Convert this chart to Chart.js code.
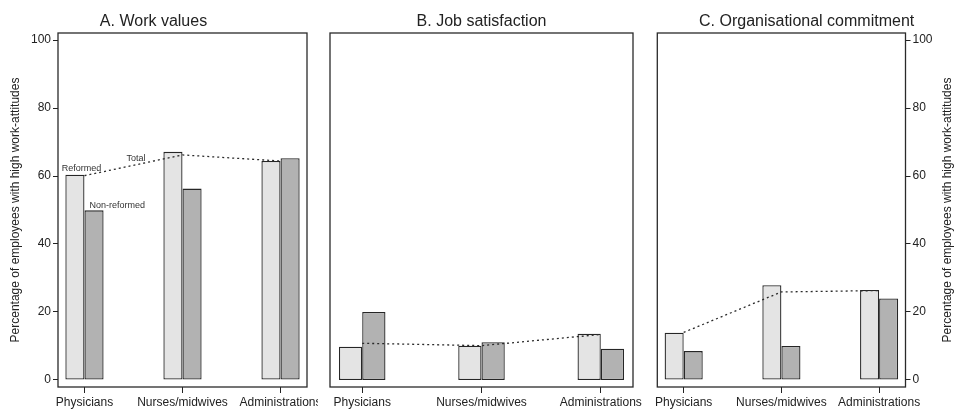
<!DOCTYPE html>
<html>
<head>
<meta charset="utf-8">
<script src="https://cdn.jsdelivr.net/npm/chart.js@4/dist/chart.umd.min.js"></script>
<style>
  html, body { margin: 0; padding: 0; background: #ffffff; }
  #wrap { position: relative; width: 956px; height: 413px; overflow: hidden; background: #ffffff; }
  canvas { position: absolute; top: 0; }
  #cA { left: 0px; }
  #cB { left: 318px; }
  #cC { left: 645px; }
</style>
</head>
<body>
<div id="wrap">
  <canvas id="cA" width="318" height="413"></canvas>
  <canvas id="cB" width="332" height="413"></canvas>
  <canvas id="cC" width="311" height="413"></canvas>
</div>
<script>
// Occupational groups on the x axis
const categories = ['Physicians', 'Nurses/midwives', 'Administrations'];

// A. Work values (% of employees with high work-attitudes)
const workReformed    = [60.4, 67.1, 64.4];
const workNonReformed = [49.9, 56.3, 65.2];
const workTotal       = [60.1, 66.2, 64.4];

// B. Job satisfaction
const jobReformed    = [9.8, 10.1, 13.6];
const jobNonReformed = [20.0, 11.1, 9.2];
const jobTotal       = [10.8, 10.1, 13.4];

// C. Organisational commitment
const commitReformed    = [13.9, 27.9, 26.5];
const commitNonReformed = [8.5, 10.0, 24.0];
const commitTotal       = [14.0, 25.9, 26.3];

// Percentage axis ticks
const yTicks = [0, 20, 40, 60, 80, 100];

const axisTitle = 'Percentage of employees with high work-attitudes';
const FONT = '"Liberation Sans", Arial, Helvetica, sans-serif';
const INK = '#222222';

Chart.defaults.font.family = FONT;
Chart.defaults.color = INK;

const pts = arr => arr.map((v, i) => ({ x: i, y: v }));

// Box around the plotting area
const framePlugin = {
  id: 'frame',
  afterDatasetsDraw(chart) {
    const { ctx, chartArea: a } = chart;
    ctx.save();
    ctx.strokeStyle = '#2a2a2a';
    ctx.lineWidth = 1.3;
    ctx.strokeRect(a.left, a.top, a.right - a.left, a.bottom - a.top);
    ctx.restore();
  }
};

// Vertical axis title on the right side, reading bottom-to-top
const rightTitlePlugin = {
  id: 'rightTitle',
  afterDraw(chart) {
    const { ctx, chartArea: a } = chart;
    ctx.save();
    ctx.font = '12px ' + FONT;
    ctx.fillStyle = INK;
    ctx.textAlign = 'center';
    ctx.textBaseline = 'middle';
    ctx.translate(chart.width - 8, (a.top + a.bottom) / 2);
    ctx.rotate(-Math.PI / 2);
    ctx.fillText(axisTitle, 0, 0);
    ctx.restore();
  }
};

// Series labels written beside the Physicians marks of panel A
const seriesLabelPlugin = {
  id: 'seriesLabels',
  afterDatasetsDraw(chart) {
    const { ctx, scales: { x, y } } = chart;
    ctx.save();
    ctx.font = '9px ' + FONT;
    ctx.fillStyle = '#333333';
    ctx.textBaseline = 'middle';
    const x0 = x.getPixelForValue(0);
    ctx.textAlign = 'center';
    ctx.fillText('Reformed', x0 - 3, y.getPixelForValue(workReformed[0]) - 6);
    const tx = 0.525;
    const tv = workTotal[0] + (workTotal[1] - workTotal[0]) * tx;
    ctx.fillText('Total', x.getPixelForValue(tx), y.getPixelForValue(tv) - 6);
    ctx.textAlign = 'left';
    ctx.fillText('Non-reformed', x0 + 5, y.getPixelForValue(workNonReformed[0]) - 5);
    ctx.restore();
  }
};

function makePanel(canvasId, title, reformed, nonReformed, total, opts) {
  const yAxis = {
    type: 'linear',
    position: opts.yPos || 'left',
    display: opts.yPos !== undefined,
    min: -2.06,
    max: 102.06,
    afterBuildTicks: s => { s.ticks = yTicks.map(v => ({ value: v })); },
    afterFit: s => {
      if (opts.yWidth) s.width = opts.yWidth;
      s.paddingTop = 0; s.paddingBottom = 0;
    },
    border: { display: false },
    grid: { display: true, drawOnChartArea: false, drawTicks: true, tickLength: 5, color: INK, lineWidth: 1 },
    ticks: { font: { size: 12 }, color: INK, padding: 2 },
    title: opts.leftTitle ? {
      display: true, text: axisTitle, color: INK,
      font: { size: 12, lineHeight: 1.2 }, padding: { top: 8.5, bottom: 0 }
    } : { display: false }
  };

  return new Chart(document.getElementById(canvasId), {
    type: 'bar',
    data: {
      datasets: [
        {
          type: 'line', label: 'Total', data: pts(total), order: 0,
          borderColor: '#2a2a2a', borderWidth: 1.3, borderDash: [2, 3],
          pointRadius: 0, tension: 0, fill: false
        },
        {
          label: 'Reformed', data: pts(reformed), order: 1,
          backgroundColor: '#e4e4e4', borderColor: '#262626', borderWidth: 1.3,
          borderSkipped: false, categoryPercentage: 0.39, barPercentage: 1.0
        },
        {
          label: 'Non-reformed', data: pts(nonReformed), order: 1,
          backgroundColor: '#b2b2b2', borderColor: '#262626', borderWidth: 1.3,
          borderSkipped: false, categoryPercentage: 0.39, barPercentage: 1.0
        }
      ]
    },
    options: {
      responsive: false,
      animation: false,
      events: [],
      layout: { autoPadding: false, padding: opts.padding },
      plugins: {
        legend: { display: false },
        tooltip: { enabled: false },
        title: {
          display: true, text: title, color: INK,
          font: { size: 16, weight: 'normal', lineHeight: 1.2 },
          padding: { top: 12, bottom: 1.8 }
        }
      },
      scales: {
        x: {
          type: 'linear',
          offset: false,
          min: -0.27,
          max: 2.27,
          afterBuildTicks: s => { s.ticks = categories.map((c, i) => ({ value: i })); },
          afterFit: s => { s.height = 26; s.paddingLeft = 0; s.paddingRight = 0; },
          border: { display: false },
          grid: { display: true, offset: false, drawOnChartArea: false, drawTicks: true, tickLength: 6, color: INK, lineWidth: 1 },
          ticks: {
            font: { size: 12 }, color: INK, padding: 2, maxRotation: 0, autoSkip: false,
            callback: (v) => categories[Math.round(v)]
          }
        },
        y: yAxis
      }
    },
    plugins: opts.plugins
  });
}

makePanel('cA', 'A. Work values', workReformed, workNonReformed, workTotal, {
  yPos: 'left', yWidth: 58, leftTitle: true,
  padding: { left: 0, right: 11, top: 0, bottom: 0 },
  plugins: [framePlugin, seriesLabelPlugin]
});

makePanel('cB', 'B. Job satisfaction', jobReformed, jobNonReformed, jobTotal, {
  padding: { left: 12, right: 17, top: 0, bottom: 0 },
  plugins: [framePlugin]
});

makePanel('cC', 'C. Organisational commitment', commitReformed, commitNonReformed, commitTotal, {
  yPos: 'right', yWidth: 50.5,
  padding: { left: 12.3, right: 0, top: 0, bottom: 0 },
  plugins: [framePlugin, rightTitlePlugin]
});
</script>
</body>
</html>
